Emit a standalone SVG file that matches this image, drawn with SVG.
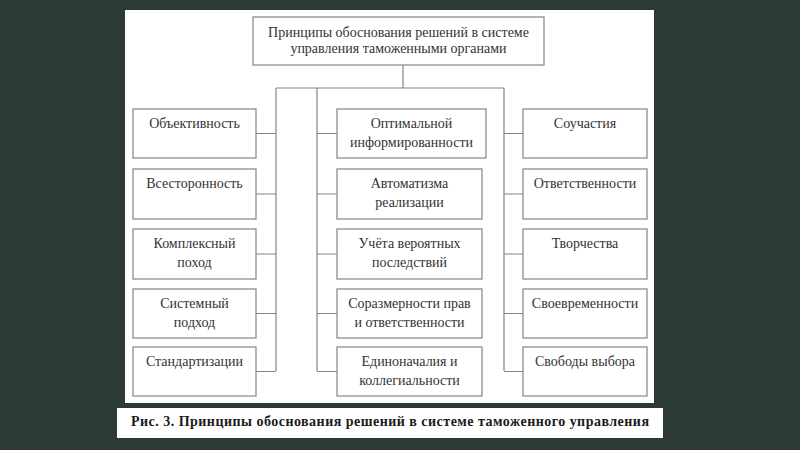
<svg xmlns="http://www.w3.org/2000/svg" width="800" height="450" viewBox="0 0 800 450">
<style>
.box{fill:#ffffff;stroke:#858585;stroke-width:1.2}
.t{font-family:"Liberation Serif","Times New Roman",serif;font-size:14px;fill:#333333;text-anchor:middle}
.cap{font-family:"Liberation Serif","Times New Roman",serif;font-size:14px;font-weight:bold;fill:#1a1a1a;text-anchor:middle}
.ln{fill:none;stroke:#858585;stroke-width:1.2}
</style>
<rect x="0" y="0" width="800" height="450" fill="#2c3a35"/>
<rect x="125" y="10" width="529" height="393" fill="#ffffff"/>
<rect x="117" y="408" width="546" height="30" fill="#ffffff"/>
<text class="cap" x="390" y="426" textLength="518" lengthAdjust="spacing">Рис. 3. Принципы обоснования решений в системе таможенного управления</text>

<g id="connectors">
<path class="ln" d="M403 65V88M276 88H504M276 88V371M317 88V371M504 88V371"/>
<path class="ln" d="M256 133.5H276M256 194H276M256 254H276M256 313.5H276M256 371.5H276"/>
<path class="ln" d="M317 133.5H337M317 194H337M317 254H337M317 313.5H337M317 371.5H337"/>
<path class="ln" d="M504 133.5H523M504 194H523M504 254H523M504 313.5H523M504 371.5H523"/>
</g>

<g id="root"><rect class="box" x="253" y="17" width="291" height="48"/>
<text class="t" x="398.5" y="37">Принципы обоснования решений в системе</text>
<text class="t" x="398.5" y="53">управления таможенными органами</text></g>

<g id="objectivity"><rect class="box" x="133" y="109" width="123" height="49"/><text class="t" x="194.5" y="128">Объективность</text></g>
<g id="comprehensiveness"><rect class="box" x="133" y="169" width="123" height="50"/><text class="t" x="194.5" y="188">Всесторонность</text></g>
<g id="complex"><rect class="box" x="133" y="229" width="123" height="50"/><text class="t" x="194.5" y="248">Комплексный</text><text class="t" x="194.5" y="267">поход</text></g>
<g id="system"><rect class="box" x="133" y="289" width="123" height="49"/><text class="t" x="194.5" y="308">Системный</text><text class="t" x="194.5" y="327">подход</text></g>
<g id="standard"><rect class="box" x="133" y="347" width="123" height="49"/><text class="t" x="194.5" y="366">Стандартизации</text></g>

<g id="optimal"><rect class="box" x="337" y="109" width="149" height="49"/><text class="t" x="411.5" y="128">Оптимальной</text><text class="t" x="411.5" y="147">информированности</text></g>
<g id="automatism"><rect class="box" x="337" y="169" width="145" height="50"/><text class="t" x="409.5" y="188">Автоматизма</text><text class="t" x="409.5" y="207">реализации</text></g>
<g id="probable"><rect class="box" x="337" y="229" width="145" height="50"/><text class="t" x="409.5" y="248">Учёта вероятных</text><text class="t" x="409.5" y="267">последствий</text></g>
<g id="proportional"><rect class="box" x="337" y="289" width="145" height="49"/><text class="t" x="409.5" y="308">Соразмерности прав</text><text class="t" x="409.5" y="327">и ответственности</text></g>
<g id="unity"><rect class="box" x="337" y="347" width="145" height="49"/><text class="t" x="409.5" y="366">Единоначалия и</text><text class="t" x="409.5" y="385">коллегиальности</text></g>

<g id="participation"><rect class="box" x="523" y="109" width="124" height="49"/><text class="t" x="585" y="128">Соучастия</text></g>
<g id="responsibility"><rect class="box" x="523" y="169" width="124" height="50"/><text class="t" x="585" y="188">Ответственности</text></g>
<g id="creativity"><rect class="box" x="523" y="229" width="124" height="50"/><text class="t" x="585" y="248">Творчества</text></g>
<g id="timeliness"><rect class="box" x="523" y="289" width="124" height="49"/><text class="t" x="585" y="308">Своевременности</text></g>
<g id="freedom"><rect class="box" x="523" y="347" width="124" height="49"/><text class="t" x="585" y="366">Свободы выбора</text></g>
</svg>
